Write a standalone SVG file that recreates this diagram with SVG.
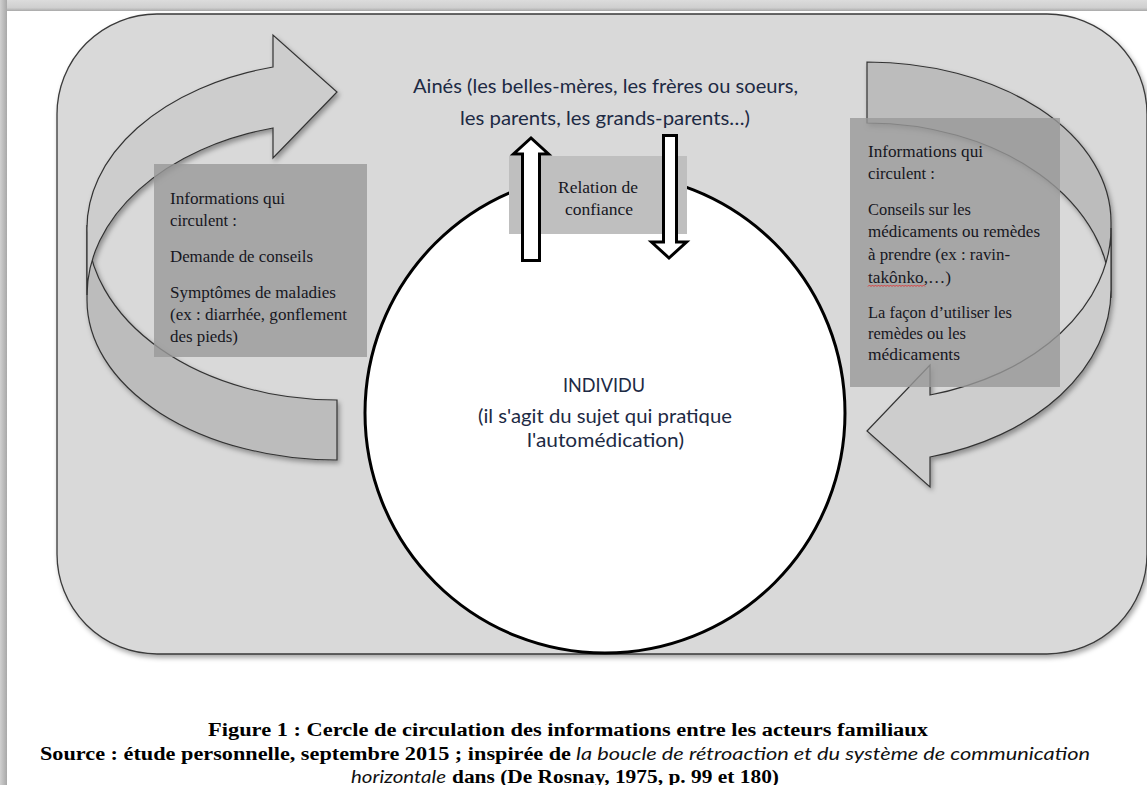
<svg xmlns="http://www.w3.org/2000/svg" width="1147" height="785" viewBox="0 0 1147 785">
<defs>
<style>
.cal{font-family:Lato,"Open Sans","DejaVu Sans",sans-serif;fill:#1d2a44;font-size:19px}
.ser{font-family:"Liberation Serif","Times New Roman",serif;fill:#16161e;font-size:16px}
.cap{font-family:"Liberation Serif","Times New Roman",serif;font-weight:bold;font-size:18px;fill:#000}
.capi{font-family:Lato,"Open Sans",sans-serif;font-style:italic;font-size:18px;fill:#111}
.band{stroke:#333;stroke-width:1.2;stroke-linejoin:miter}
.front{fill:#cdcdcd}
.back{fill:#bcbcbc}
.infobox{fill:#999999;opacity:0.8}
.thin{fill:#fff;stroke:#000;stroke-width:3;stroke-linejoin:miter}
</style>
<filter id="sh" x="-10%" y="-10%" width="125%" height="130%">
<feDropShadow dx="2" dy="3" stdDeviation="2.5" flood-color="#000" flood-opacity="0.35"/>
</filter>
<linearGradient id="topband" x1="0" y1="0" x2="0" y2="1">
<stop offset="0" stop-color="#dcdcdc"/>
<stop offset="0.7" stop-color="#cfcfcf"/>
<stop offset="1" stop-color="#a9a9a9"/>
</linearGradient>
<linearGradient id="leftband" x1="0" y1="0" x2="1" y2="0">
<stop offset="0" stop-color="#d0d0d0"/>
<stop offset="1" stop-color="#a8a8a8"/>
</linearGradient>
</defs>

<rect x="0" y="0" width="1147" height="785" fill="#ffffff"/>
<rect x="0" y="0" width="1147" height="11" fill="url(#topband)"/>
<rect x="0" y="0" width="7" height="785" fill="url(#leftband)"/>

<g id="frame">
<rect x="57" y="14" width="1090" height="640" rx="100" ry="100" fill="#d9d9d9" stroke="#3a3a3a" stroke-width="1.3" filter="url(#sh)"/>
</g>

<g id="individu">
<circle cx="605" cy="413" r="240" fill="#ffffff" stroke="#000" stroke-width="3"/>
<text class="cal" x="563" y="392" textLength="82" lengthAdjust="spacingAndGlyphs">INDIVIDU</text>
<text class="cal" x="478" y="423" textLength="254" lengthAdjust="spacingAndGlyphs">(il s'agit du sujet qui pratique</text>
<text class="cal" x="527" y="447" textLength="157" lengthAdjust="spacingAndGlyphs">l'automédication)</text>
</g>

<g id="connectors">
<g id="loop-left" filter="url(#sh)">
<path class="band back" d="M87,225 L87,300 A250 160 0 0 0 337,460 L337,400 A250 175 0 0 1 87,225 Z"/>
<path class="band front" d="M273,67 L273,35 L337,92 L273,158 L273,128 A250 173 0 0 0 87,295 L87,232 A250 167 0 0 1 273,67 Z"/>
</g>
<g id="loop-right" filter="url(#sh)">
<path class="band back" d="M1111,298 L1111,222 A244 160 0 0 0 867,62 L867,123 A244 175 0 0 1 1111,298 Z"/>
<path class="band front" d="M930,457 L930,487 L867,431 L930,365 L930,395 A244 173 0 0 0 1111,228 L1111,290 A244 173 0 0 1 930,457 Z"/>
</g>
</g>

<g id="info-left">
<rect class="infobox" x="154" y="164" width="213" height="193"/>
<text class="ser" x="170" y="204" textLength="115" lengthAdjust="spacingAndGlyphs">Informations qui</text>
<text class="ser" x="170" y="226" textLength="67" lengthAdjust="spacingAndGlyphs">circulent :</text>
<text class="ser" x="170" y="262" textLength="143" lengthAdjust="spacingAndGlyphs">Demande de conseils</text>
<text class="ser" x="170" y="298" textLength="166" lengthAdjust="spacingAndGlyphs">Symptômes de maladies</text>
<text class="ser" x="170" y="320" textLength="177" lengthAdjust="spacingAndGlyphs">(ex : diarrhée, gonflement</text>
<text class="ser" x="170" y="342" textLength="68" lengthAdjust="spacingAndGlyphs">des pieds)</text>
</g>

<g id="info-right">
<rect class="infobox" x="850" y="118" width="210" height="269"/>
<text class="ser" x="868" y="157" textLength="115" lengthAdjust="spacingAndGlyphs">Informations qui</text>
<text class="ser" x="868" y="179" textLength="67" lengthAdjust="spacingAndGlyphs">circulent :</text>
<text class="ser" x="868" y="215" textLength="103" lengthAdjust="spacingAndGlyphs">Conseils sur les</text>
<text class="ser" x="868" y="237" textLength="172" lengthAdjust="spacingAndGlyphs">médicaments ou remèdes</text>
<text class="ser" x="868" y="260" textLength="142" lengthAdjust="spacingAndGlyphs">à prendre (ex : ravin-</text>
<text class="ser" x="868" y="283" textLength="83" lengthAdjust="spacingAndGlyphs">takônko,…)</text>
<path d="M868,286.5 l1.5,-1.5 l1.5,1.5 l1.5,-1.5 l1.5,1.5 l1.5,-1.5 l1.5,1.5 l1.5,-1.5 l1.5,1.5 l1.5,-1.5 l1.5,1.5 l1.5,-1.5 l1.5,1.5 l1.5,-1.5 l1.5,1.5 l1.5,-1.5 l1.5,1.5 l1.5,-1.5 l1.5,1.5 l1.5,-1.5 l1.5,1.5 l1.5,-1.5 l1.5,1.5 l1.5,-1.5 l1.5,1.5 l1.5,-1.5 l1.5,1.5 l1.5,-1.5 l1.5,1.5 l1.5,-1.5 l1.5,1.5 l1.5,-1.5 l1.5,1.5 l1.5,-1.5 l1.5,1.5 l1.5,-1.5 l1.5,1.5 l1.5,-1.5 l1.5,1.5" fill="none" stroke="#e03030" stroke-width="0.9"/>
<text class="ser" x="868" y="318" textLength="144" lengthAdjust="spacingAndGlyphs">La façon d’utiliser les</text>
<text class="ser" x="868" y="339" textLength="98" lengthAdjust="spacingAndGlyphs">remèdes ou les</text>
<text class="ser" x="868" y="360" textLength="92" lengthAdjust="spacingAndGlyphs">médicaments</text>
</g>

<g id="aines">
<text class="cal" x="413" y="93" textLength="385" lengthAdjust="spacingAndGlyphs">Ainés (les belles-mères, les frères ou soeurs,</text>
<text class="cal" x="460" y="125" textLength="290" lengthAdjust="spacingAndGlyphs">les parents, les grands-parents…)</text>
</g>

<g id="relation">
<rect x="509" y="156" width="178" height="78" fill="#bfbfbf"/>
<text class="ser" x="558" y="193" font-size="15" textLength="80" lengthAdjust="spacingAndGlyphs">Relation de</text>
<text class="ser" x="565" y="215" font-size="15" textLength="68" lengthAdjust="spacingAndGlyphs">confiance</text>
</g>

<g id="exchange-arrows">
<path class="thin" d="M522.5,260.5 L522.5,154 L513.5,154 L531,138 L548.5,154 L539.5,154 L539.5,260.5 Z"/>
<path class="thin" d="M663.5,135.5 L676.5,135.5 L676.5,242 L686.5,242 L669,258 L651.5,242 L663.5,242 Z"/>
</g>

<g id="caption">
<text class="cap" x="208" y="736" textLength="720" lengthAdjust="spacingAndGlyphs">Figure 1 : Cercle de circulation des informations entre les acteurs familiaux</text>
<text class="cap" x="40" y="760" textLength="531" lengthAdjust="spacingAndGlyphs">Source : étude personnelle, septembre 2015 ; inspirée de</text>
<text class="capi" x="576" y="760" textLength="514" lengthAdjust="spacingAndGlyphs">la boucle de rétroaction et du système de communication</text>
<text class="capi" x="351" y="783" textLength="95" lengthAdjust="spacingAndGlyphs">horizontale</text>
<text class="cap" x="452" y="783" textLength="327" lengthAdjust="spacingAndGlyphs">dans (De Rosnay, 1975, p. 99 et 180)</text>
</g>
</svg>
